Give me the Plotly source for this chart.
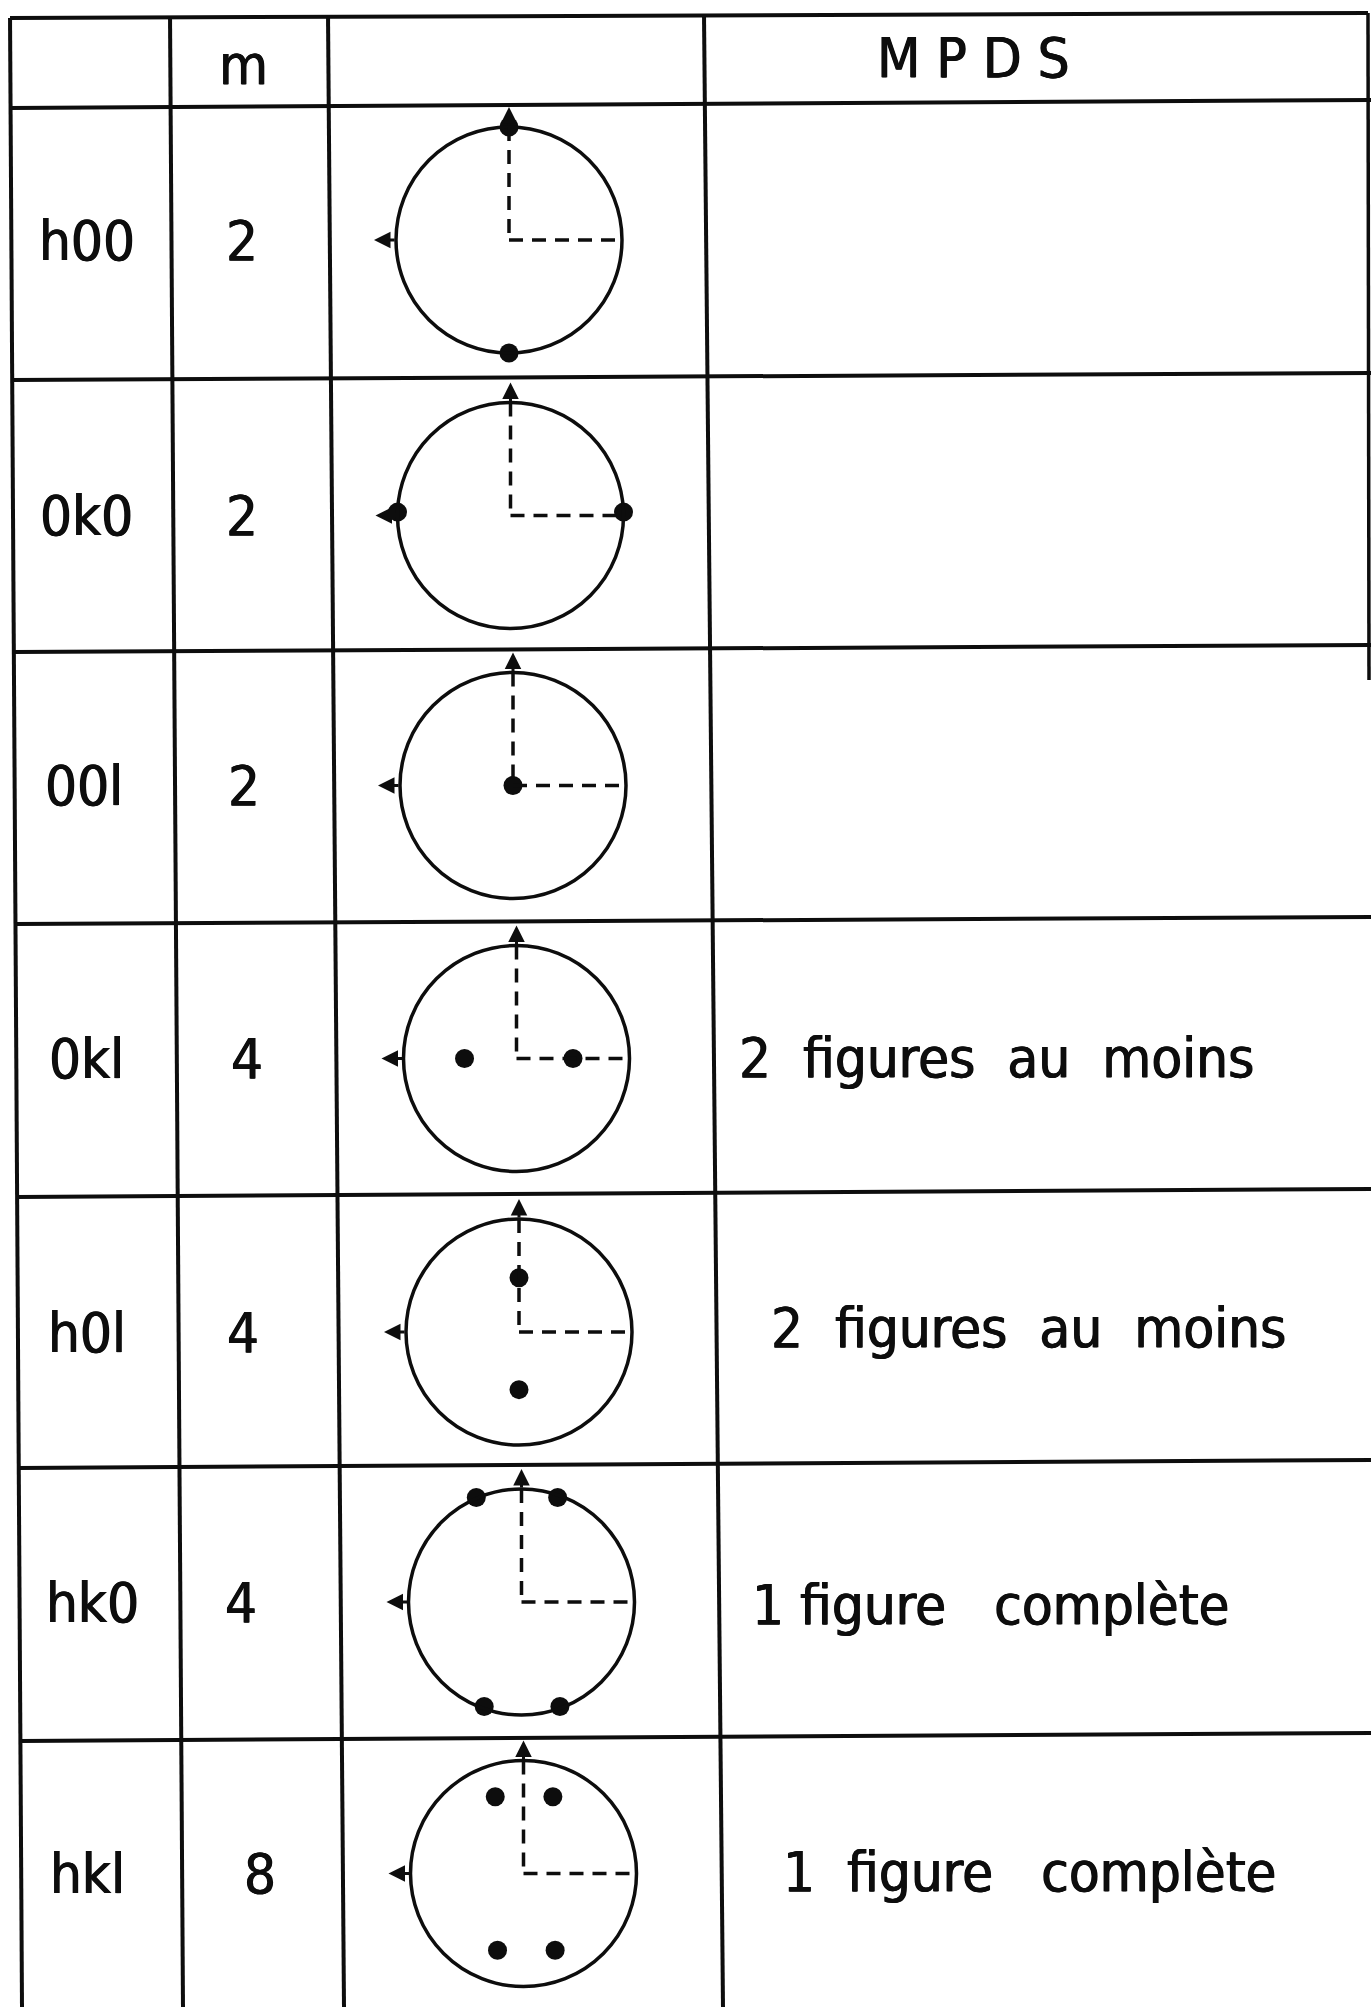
import plotly.graph_objects as go

W, H = 1371, 2007

# ---- table content ----
header = ["", "m", "", "M P D S"]
labels = ["h00", "0k0", "00l", "0kl", "h0l", "hk0", "hkl"]
multiplicity = ["2", "2", "2", "4", "4", "4", "8"]
mpds = ["", "", "",
        "2  figures  au  moins",
        "2  figures  au  moins",
        "1 figure   complète",
        "1  figure   complète"]
# pole positions on each figure, in units of the circle radius (x right, y up)
poles_x = [[0, 0], [-1, 1], [0], [-0.46, 0.50], [0, 0],
           [-0.40, 0.32, -0.33, 0.34], [-0.25, 0.26, -0.23, 0.28]]
poles_y = [[1, -1], [0.03, 0.03], [0], [0, 0], [0.48, -0.51],
           [0.925, 0.925, -0.925, -0.925], [0.68, 0.68, -0.68, -0.68]]

# ---- layout geometry (pixels of the scanned sheet) ----
row_lines = [(18, 13), (108, 100), (380, 373), (652, 645), (924, 917),
             (1197, 1189), (1468, 1460), (1741, 1733)]   # (y at left, y at right)
col_lines = [(10, 22), (170, 183), (328, 344), (704, 723)]  # (x at top, x at bottom)
right_border = (1368, 13, 680)
cx = [509, 510.5, 513, 516.5, 519, 521.5, 523.5]
cy = [240, 515.5, 785.5, 1058.5, 1332, 1602, 1873.5]
R = 113
label_x = [87, 86, 84, 86, 87, 92, 87]
mult_x = [242, 242, 244, 247, 243, 241, 260]
mpds_x = [0, 0, 0, 737, 769, 750, 781]
mpds_y = [0, 0, 0, 1057, 1327, 1604, 1871]

FONT = "DejaVu Sans Condensed, Liberation Sans Narrow, DejaVu Sans, sans-serif"
INK = "#0d0d0d"
SHADOW = "0.6px 0 0 #0d0d0d, -0.6px 0 0 #0d0d0d"

fig = go.Figure()
shapes = []
ann = []

def yline(i, x):
    yl, yr = row_lines[i]
    return yl + (yr - yl) * (x - 10) / (W - 10)

def xline(j, y):
    xt, xb = col_lines[j]
    return xt + (xb - xt) * (y - 14) / (H - 14)

def tfont(size):
    return dict(family=FONT, size=size, color=INK, shadow=SHADOW)

# horizontal rules
for i in range(len(row_lines)):
    x0 = xline(0, row_lines[i][0])
    x1 = right_border[0] if i == 0 else W
    shapes.append(dict(type="line", x0=x0, x1=x1, y0=yline(i, x0), y1=yline(i, x1),
                       line=dict(color=INK, width=4), layer="above"))
# vertical rules
for j in range(len(col_lines)):
    y0 = yline(0, col_lines[j][0])
    shapes.append(dict(type="line", x0=xline(j, y0), x1=xline(j, H), y0=y0, y1=H,
                       line=dict(color=INK, width=4), layer="above"))
shapes.append(dict(type="line", x0=right_border[0], x1=right_border[0] + 1,
                   y0=right_border[1], y1=right_border[2],
                   line=dict(color=INK, width=3.5), layer="above"))

# header texts
hdr_x = [90, 243, 516, 973]
hdr_y = [60, 64, 60, 57]
for t, x, y in zip(header, hdr_x, hdr_y):
    if t:
        ann.append(dict(x=x, y=y, text=t.replace(" ", "\u00a0"), showarrow=False,
                        xanchor="center", yanchor="middle", font=tfont(56)))

dots_x, dots_y = [], []
for k in range(len(labels)):
    x, y = cx[k], cy[k]
    # circle
    shapes.append(dict(type="circle", x0=x - R, x1=x + R, y0=y - R, y1=y + R,
                       line=dict(color=INK, width=3.5)))
    # dashed reference axes
    shapes.append(dict(type="line", x0=x, x1=x, y0=y - R, y1=y,
                       line=dict(color=INK, width=3.5, dash="14px,9px")))
    shapes.append(dict(type="line", x0=x, x1=x + R, y0=y, y1=y,
                       line=dict(color=INK, width=3.5, dash="14px,9px")))
    # arrows (up and left)
    ann.append(dict(x=x, y=y - R - 20, ax=x, ay=y - R, xref="x", yref="y", axref="x", ayref="y",
                    text="", showarrow=True, arrowhead=2, arrowsize=1.1, arrowwidth=3,
                    arrowcolor=INK))
    ann.append(dict(x=x - R - 22, y=y, ax=x - R, ay=y, xref="x", yref="y", axref="x", ayref="y",
                    text="", showarrow=True, arrowhead=2, arrowsize=1.1, arrowwidth=3,
                    arrowcolor=INK))
    for px, py in zip(poles_x[k], poles_y[k]):
        dots_x.append(x + px * R)
        dots_y.append(y - py * R)
    # texts
    ann.append(dict(x=label_x[k], y=y, text=labels[k], showarrow=False, xanchor="center",
                    yanchor="middle", font=tfont(56)))
    ann.append(dict(x=mult_x[k], y=y, text=multiplicity[k], showarrow=False, xanchor="center",
                    yanchor="middle", font=tfont(56)))
    if mpds[k]:
        ann.append(dict(x=mpds_x[k], y=mpds_y[k], text=mpds[k].replace(" ", "\u00a0"),
                        showarrow=False, xanchor="left", yanchor="middle", font=tfont(56)))

fig.add_trace(go.Scatter(x=dots_x, y=dots_y, mode="markers",
                         marker=dict(size=19, color=INK, line=dict(width=0)),
                         hoverinfo="skip", showlegend=False))

fig.update_layout(
    width=W, height=H, margin=dict(l=0, r=0, t=0, b=0),
    paper_bgcolor="white", plot_bgcolor="white",
    xaxis=dict(range=[0, W], visible=False, fixedrange=True),
    yaxis=dict(range=[H, 0], visible=False, fixedrange=True),
    shapes=shapes, annotations=ann, showlegend=False,
)

fig.write_html("out.html", config={"displayModeBar": False},
               post_script="document.body.style.margin='0';document.body.style.overflow='hidden';")
